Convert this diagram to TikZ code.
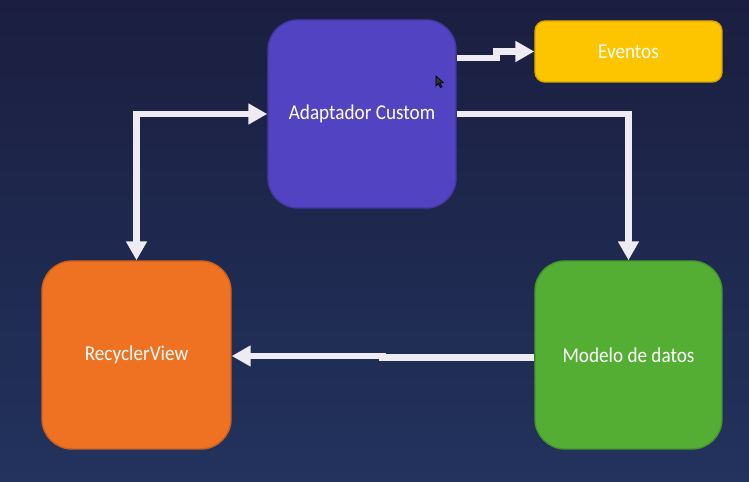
\documentclass[tikz,border=0pt]{standalone}
\usepackage{fontspec}
\setmainfont[FakeStretch=0.91]{Carlito}
\usetikzlibrary{arrows.meta}
\definecolor{fondoA}{HTML}{1B1E40}
\definecolor{fondoB}{HTML}{22335D}
\definecolor{morado}{HTML}{5243C2}
\definecolor{amarillo}{HTML}{FDC500}
\definecolor{naranja}{HTML}{EF7222}
\definecolor{verde}{HTML}{55AE34}
\definecolor{flechacol}{HTML}{EFEBF3}
\tikzset{
  caja/.style={rounded corners=0.3cm, minimum width=1.88cm, minimum height=1.88cm,
    text=white, font=\fontsize{6}{7}\selectfont, line width=0.4pt, inner sep=0pt},
  flecha/.style={draw=flechacol, line width=0.065cm,
    -{Triangle[length=0.19cm,width=0.2cm]}},
  flechas/.style={flecha, {Triangle[length=0.19cm,width=0.2cm]}-{Triangle[length=0.19cm,width=0.2cm]}}
}
\begin{document}
\begin{tikzpicture}
\shade[top color=fondoA, bottom color=fondoB] (0,0) rectangle (7.49,4.82);
\useasboundingbox (0,0) rectangle (7.49,4.82);
% cajas
\node[caja, fill=morado, draw=morado!85!black] (adapt) at (3.62,3.68) {Adaptador Custom};
\node[caja, fill=amarillo, draw=amarillo!85!black, rounded corners=0.1cm,
  minimum width=1.87cm, minimum height=0.61cm] (eventos) at (6.285,4.305) {Eventos};
\node[caja, fill=naranja, draw=naranja!85!black, minimum width=1.89cm] (recycler) at (1.365,1.27) {RecyclerView};
\node[caja, fill=verde, draw=verde!85!black, minimum width=1.87cm] (modelo) at (6.285,1.27) {Modelo de datos};
% conexiones
\draw[flecha] ([yshift=0.56cm]adapt.east) -- ++(0.4,0) |- (eventos.west);
\draw[flechas] (recycler.north) |- (adapt.west);
\draw[flecha] (adapt.east) -| (modelo.north);
\draw[flecha] ([yshift=-0.025cm]modelo.west) -- ++(-1.52,0) |- ([yshift=-0.01cm]recycler.east);
% cursor
\coordinate (cursor) at (4.36,4.06);
\draw[fill=black!80, draw=black, line width=0.2pt] (cursor) -- ++(0,-0.1) -- ++(0.025,0.025)
  -- ++(0.02,-0.04) -- ++(0.015,0.007) -- ++(-0.02,0.04) -- ++(0.035,0) -- cycle;
\end{tikzpicture}
\end{document}
